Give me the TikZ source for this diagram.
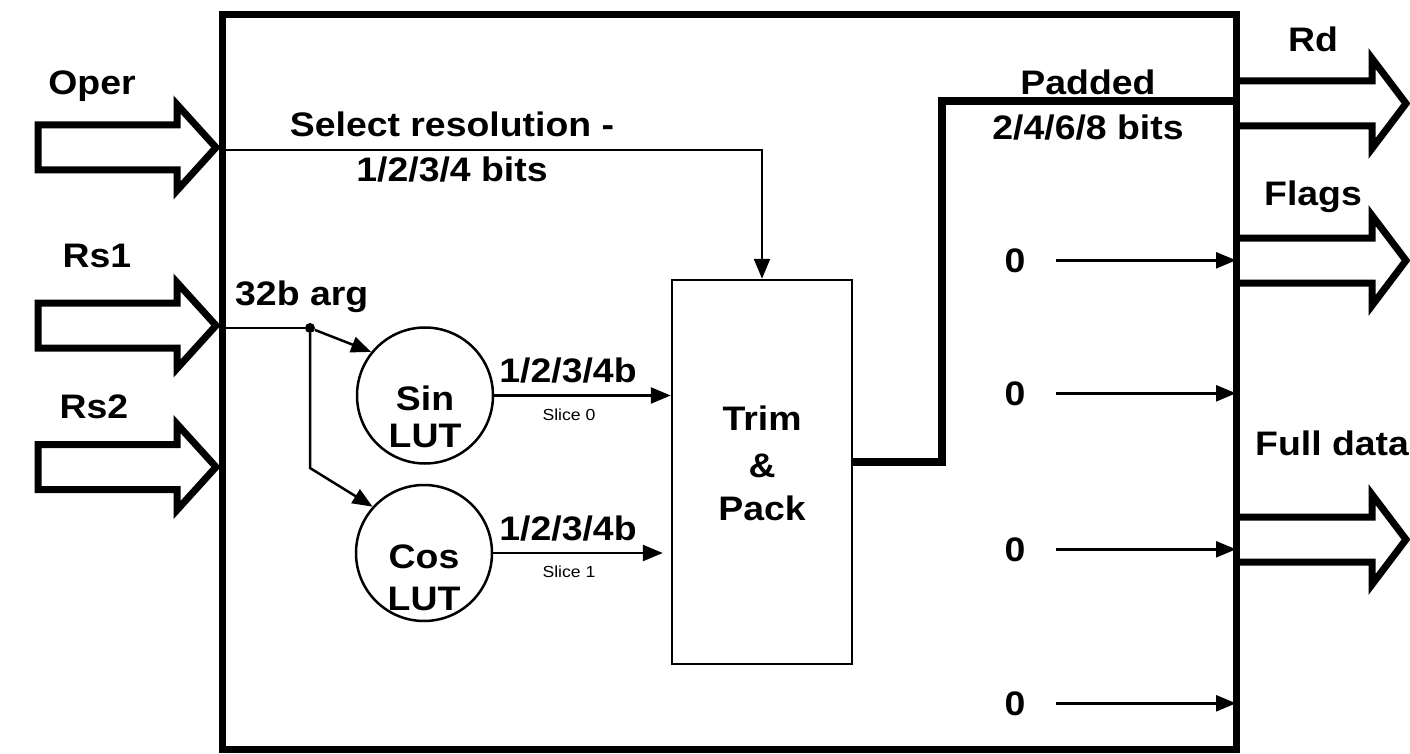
\documentclass[tikz,border=0pt]{standalone}
\usepackage{fontspec}
\setmainfont{Liberation Sans}[FakeStretch=1.1]
\usetikzlibrary{arrows.meta}
\begin{document}
\begin{tikzpicture}[x=1pt,y=-1pt,
  lbl/.style={font=\fontsize{34}{40}\selectfont\bfseries, inner sep=0pt, anchor=base},
  tinylbl/.style={font=\fontsize{16}{18}\selectfont, inner sep=0pt},
  thinline/.style={line width=2.5pt},
  arr/.style={thinline, -{Triangle[length=20pt,width=16pt]}},
  block/.style={line width=7pt, line join=miter, fill=white},
  bus/.style={line width=8pt, line join=miter},
]
\useasboundingbox[fill=white] (0,0) rectangle (1410,754);

% input block arrows
\draw[block] (38,125) -- (177,125) -- (177,104.5) -- (216,147.5) -- (177,190.5) -- (177,170) -- (38,170) -- cycle;
\draw[block] (38,303) -- (177,303) -- (177,282.5) -- (216,325.5) -- (177,368.5) -- (177,348) -- (38,348) -- cycle;
\draw[block] (38,444.5) -- (177,444.5) -- (177,424) -- (216,467) -- (177,510) -- (177,489.5) -- (38,489.5) -- cycle;

% output block arrows
\draw[block] (1236,81) -- (1372,81) -- (1372,58.5) -- (1406,103.5) -- (1372,148.5) -- (1372,126) -- (1236,126);
\draw[block] (1236,238) -- (1372,238) -- (1372,215.5) -- (1406,260.5) -- (1372,305.5) -- (1372,283) -- (1236,283);
\draw[block] (1236,517) -- (1372,517) -- (1372,494.5) -- (1406,539.5) -- (1372,584.5) -- (1372,562) -- (1236,562);

% main box
\node[draw, line width=7pt, minimum width=1014pt, minimum height=734pt, inner sep=0pt] (main) at (729,382) {};

% labels of block arrows
\node[lbl] (oper) at (92,95) {Oper};
\node[lbl] (rs1) at (97,267) {Rs1};
\node[lbl] (rs2) at (94,418) {Rs2};
\node[lbl] (rd) at (1313,52) {Rd};
\node[lbl] (flags) at (1313,205) {Flags};
\node[lbl, anchor=base west] (full) at (1255,455) {Full data};

% inner blocks
\node[draw, thinline, minimum width=180pt, minimum height=384pt, inner sep=0pt] (trim) at (762,472) {};
\node[lbl] (trim1) at (762,430) {Trim};
\node[lbl] (trim2) at (762,477) {\&};
\node[lbl] (trim3) at (762,520) {Pack};

\node[draw, thinline, circle, minimum size=136pt, inner sep=0pt] (sin) at (425,395.5) {};
\node[lbl] (sin1) at (425,410) {Sin};
\node[lbl] (sin2) at (425,447) {LUT};
\node[draw, thinline, circle, minimum size=136pt, inner sep=0pt] (cos) at (424,553) {};
\node[lbl] (cos1) at (424,568) {Cos};
\node[lbl] (cos2) at (424,610) {LUT};

% Oper path
\coordinate (operin) at (222,150);
\draw[arr] (operin) -| (trim.north);
\node[lbl] (sel1) at (452,137) {Select resolution -};
\node[lbl] (sel2) at (452,182) {1/2/3/4 bits};

% Rs1 path
\coordinate (rs1in) at (222,328);
\node[circle, fill, inner sep=0pt, minimum size=10pt] (dot) at (310,328) {};
\node[lbl, anchor=base west] (arg) at (235,305) {32b arg};
\draw[thinline] (rs1in) -- (dot);
\draw[arr] (dot) -- (sin.141);
\coordinate (bend) at (310,468);
\draw[arr] (dot) -- (bend) -- (cos.138);

% LUT outputs
\draw[arr] (sin.east) -- (sin.east -| trim.west);
\node[lbl] (sb) at (568,382) {1/2/3/4b};
\node[tinylbl] (s0) at (569,415) {Slice 0};
\draw[arr, shorten >=8pt] (cos.east) -- (cos.east -| trim.west);
\node[lbl] (cb) at (568,540) {1/2/3/4b};
\node[tinylbl] (s1) at (569,572) {Slice 1};

% trim output bus
\coordinate (pk) at (942,101);
\draw[bus] ([yshift=10pt]trim.east) -| (pk) -- (pk -| main.east);
\node[lbl] (pad1) at (1088,95) {Padded};
\node[lbl] (pad2) at (1088,140) {2/4/6/8 bits};

% zeros
\node[lbl] (z1) at (1015,272) {0};
\node[lbl] (z2) at (1015,405) {0};
\node[lbl] (z3) at (1015,561) {0};
\node[lbl] (z4) at (1015,715) {0};
\foreach \z in {z1,z2,z3,z4}
  \draw[arr, shorten >=3.5pt] ([xshift=30pt]\z.east) -- (\z.east -| main.east);
\end{tikzpicture}
\end{document}
